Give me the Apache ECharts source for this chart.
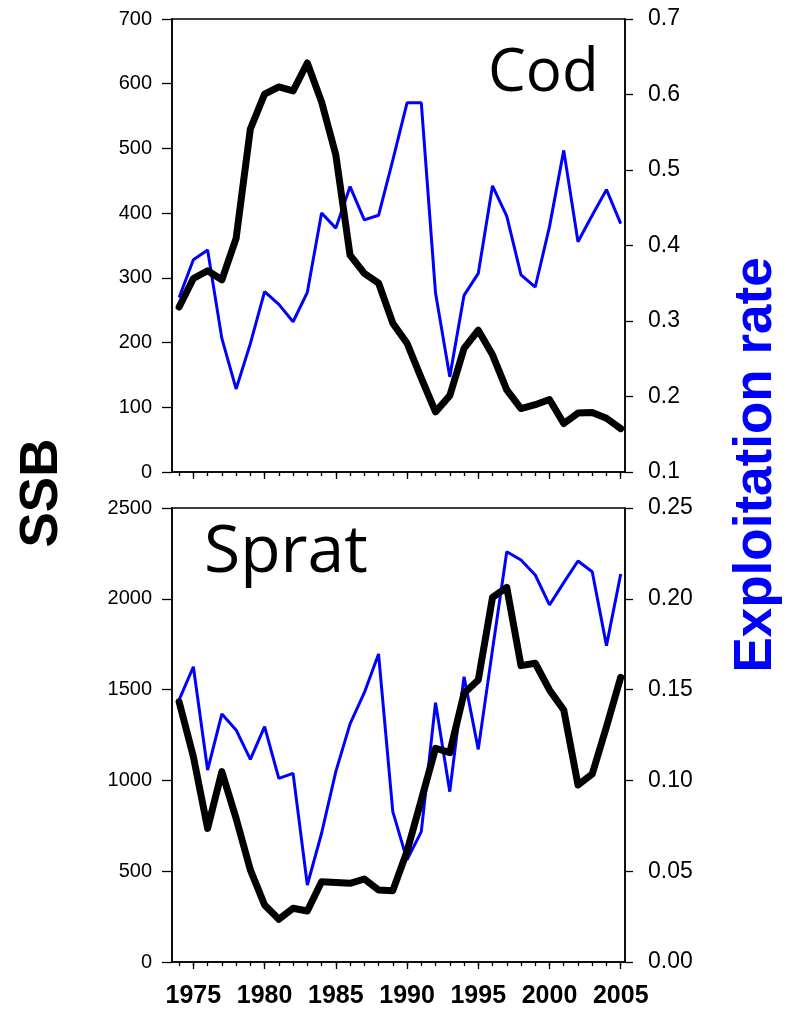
<!DOCTYPE html>
<html><head><meta charset="utf-8">
<script src="https://cdn.jsdelivr.net/npm/echarts@6/dist/echarts.min.js"></script>
<style>html,body{margin:0;padding:0;background:#fff}#c{width:789px;height:1011px}</style>
</head><body><div id="c"></div>
<script>
const years = [1974,1975,1976,1977,1978,1979,1980,1981,1982,1983,1984,1985,1986,1987,1988,1989,1990,1991,1992,1993,1994,1995,1996,1997,1998,1999,2000,2001,2002,2003,2004,2005];
const codSSB = [255,299,311,297,361,530,584,595,589,632,572,490,335,307,292,230,199,145,93,118,191,219,181,127,98,104,112,75,91,92,83,67];
const codExpl = [0.331,0.381,0.394,0.277,0.210,0.270,0.339,0.322,0.299,0.338,0.443,0.423,0.478,0.434,0.440,0.513,0.589,0.589,0.337,0.226,0.334,0.363,0.479,0.439,0.361,0.345,0.425,0.526,0.405,0.440,0.474,0.429];
const spratSSB = [1433,1131,736,1048,791,507,314,235,296,281,442,438,433,457,396,393,610,892,1177,1153,1480,1553,2008,2063,1632,1645,1498,1388,975,1035,1296,1568];
const spratExpl = [0.1443,0.1626,0.1057,0.1366,0.1278,0.1116,0.1296,0.1011,0.1039,0.0424,0.0709,0.1048,0.1311,0.1483,0.1696,0.0828,0.0562,0.0718,0.1428,0.0938,0.1571,0.1171,0.1720,0.2259,0.2214,0.2131,0.1966,0.2089,0.2208,0.2149,0.1742,0.2137];
const majorYears = [1975,1980,1985,1990,1995,2000,2005];

const FONT = 'Liberation Sans, Arial, sans-serif';
const pair = (xs, ys) => xs.map((x, i) => [x, ys[i]]);

const chart = echarts.init(document.getElementById('c'), null, {renderer: 'canvas'});
const axLine = {show: true, lineStyle: {color: '#000', width: 1.5}};

function xMinor(grid) {
  return {type: 'value', gridIndex: grid, min: 1973.5, max: 2005.3, position: 'bottom',
    axisLine: axLine, splitLine: {show: false},
    axisTick: {show: true, length: 4, lineStyle: {color: '#000', width: 1.3}, customValues: years},
    axisLabel: {show: false}};
}
function xMajor(grid, labels) {
  return {type: 'value', gridIndex: grid, min: 1973.5, max: 2005.3, position: 'bottom',
    axisLine: {show: false}, splitLine: {show: false},
    axisTick: {show: true, length: 7, lineStyle: {color: '#000', width: 1.3}, customValues: majorYears},
    axisLabel: {show: labels, customValues: majorYears, margin: 22, fontFamily: FONT, fontSize: 25, fontWeight: 'bold', color: '#000', formatter: v => String(v)}};
}

const option = {
  animation: false,
  backgroundColor: '#fff',
  grid: [
    {left: 172, width: 453, top: 19, height: 453, show: true, borderColor: '#000', borderWidth: 1.5, backgroundColor: 'transparent'},
    {left: 172, width: 453, top: 508, height: 454, show: true, borderColor: '#000', borderWidth: 1.5, backgroundColor: 'transparent'}
  ],
  xAxis: [xMinor(0), xMinor(1), xMajor(0, false), xMajor(1, true)],
  yAxis: [
    {type: 'value', gridIndex: 0, position: 'left', min: 0, max: 700, interval: 100,
      axisLine: axLine, splitLine: {show: false},
      axisTick: {length: 10, lineStyle: {color: '#000', width: 1.3}},
      axisLabel: {margin: 20, fontFamily: FONT, fontSize: 20, color: '#000', formatter: v => String(v)}},
    {type: 'value', gridIndex: 0, position: 'right', min: 0.1, max: 0.7, interval: 0.1,
      axisLine: axLine, splitLine: {show: false},
      axisTick: {length: 8, lineStyle: {color: '#000', width: 1.3}},
      axisLabel: {margin: 23, fontFamily: FONT, fontSize: 23, color: '#000', formatter: v => v.toFixed(1)}},
    {type: 'value', gridIndex: 1, position: 'left', min: 0, max: 2500, interval: 500,
      axisLine: axLine, splitLine: {show: false},
      axisTick: {length: 10, lineStyle: {color: '#000', width: 1.3}},
      axisLabel: {margin: 20, fontFamily: FONT, fontSize: 20, color: '#000', formatter: v => String(v)}},
    {type: 'value', gridIndex: 1, position: 'right', min: 0, max: 0.25, interval: 0.05,
      axisLine: axLine, splitLine: {show: false},
      axisTick: {length: 8, lineStyle: {color: '#000', width: 1.3}},
      axisLabel: {margin: 23, fontFamily: FONT, fontSize: 23, color: '#000', formatter: v => v.toFixed(2)}}
  ],
  series: [
    {type: 'line', xAxisIndex: 0, yAxisIndex: 1, data: pair(years, codExpl), showSymbol: false,
      lineStyle: {color: '#0000ff', width: 3}, z: 2},
    {type: 'line', xAxisIndex: 0, yAxisIndex: 0, data: pair(years, codSSB), showSymbol: false,
      lineStyle: {color: '#000', width: 7, join: 'round', cap: 'round'}, z: 3},
    {type: 'line', xAxisIndex: 1, yAxisIndex: 3, data: pair(years, spratExpl), showSymbol: false,
      lineStyle: {color: '#0000ff', width: 3}, z: 2},
    {type: 'line', xAxisIndex: 1, yAxisIndex: 2, data: pair(years, spratSSB), showSymbol: false,
      lineStyle: {color: '#000', width: 7, join: 'round', cap: 'round'}, z: 3}
  ],
  graphic: [
    {type: 'text', left: 488, top: 44, style: {text: 'Cod', font: '60px "Open Sans", sans-serif', fill: '#000'}},
    {type: 'text', left: 204, top: 520, style: {text: 'Sprat', font: '66px "Open Sans", sans-serif', fill: '#000'}},
    {type: 'text', x: 42, y: 493, rotation: Math.PI / 2,
      style: {text: 'SSB', font: 'bold 53px ' + FONT, fill: '#000', align: 'center', verticalAlign: 'middle'}},
    {type: 'text', x: 756, y: 465, rotation: Math.PI / 2,
      style: {text: 'Exploitation rate', font: 'bold 53px ' + FONT, fill: '#0000ff', align: 'center', verticalAlign: 'middle'}}
  ]
};
chart.setOption(option);
</script></body></html>
